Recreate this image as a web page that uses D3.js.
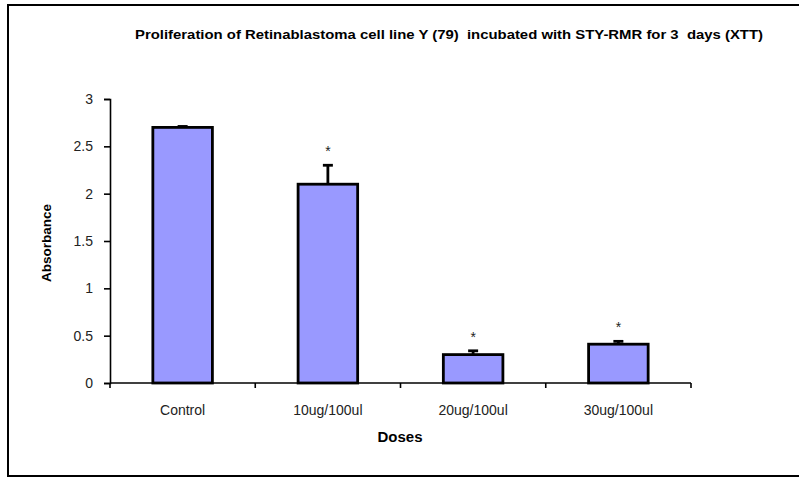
<!DOCTYPE html>
<html>
<head>
<meta charset="utf-8">
<script src="https://cdn.jsdelivr.net/npm/d3@7"></script>
<style>
  body { margin: 0; background: #fff; }
  text { font-family: "Liberation Sans", Arial, sans-serif; }
</style>
</head>
<body>
<div id="chart"></div>
<script>
// data
var doses = ['Control', '10ug/100ul', '20ug/100ul', '30ug/100ul'];
var absorbance = [2.70, 2.10, 0.30, 0.41];
var errors = [0.01, 0.20, 0.04, 0.03];
var significant = [false, true, true, true];
var yTicks = [0, 0.5, 1, 1.5, 2, 2.5, 3];

var width = 799, height = 478;

var svg = d3.select('#chart').append('svg')
  .attr('width', width)
  .attr('height', height);

// outer frame
svg.append('rect')
  .attr('x', 8).attr('y', 5)
  .attr('width', 800).attr('height', 471)
  .attr('fill', 'none')
  .attr('stroke', '#000')
  .attr('stroke-width', 2);

var x = d3.scaleBand().domain(doses).range([110, 691]).padding(0);
var y = d3.scaleLinear().domain([0, 3]).range([383, 99]);

// bars
var barW = x.bandwidth() * 0.41;
svg.selectAll('.bar').data(doses).enter()
  .append('rect').attr('class', 'bar')
  .attr('x', function(d) { return x(d) + (x.bandwidth() - barW) / 2; })
  .attr('y', function(d, i) { return y(absorbance[i]); })
  .attr('width', barW)
  .attr('height', function(d, i) { return y(0) - y(absorbance[i]); })
  .attr('fill', '#9999ff')
  .attr('stroke', '#000')
  .attr('stroke-width', 2.8);

// error bars (upper only)
var err = svg.selectAll('.err').data(doses).enter()
  .append('g').attr('class', 'err')
  .attr('stroke', '#000').attr('stroke-width', 2.8);
err.append('line')
  .attr('x1', function(d) { return x(d) + x.bandwidth() / 2; })
  .attr('x2', function(d) { return x(d) + x.bandwidth() / 2; })
  .attr('y1', function(d, i) { return y(absorbance[i]); })
  .attr('y2', function(d, i) { return y(absorbance[i] + errors[i]); });
err.append('line')
  .attr('x1', function(d) { return x(d) + x.bandwidth() / 2 - 5; })
  .attr('x2', function(d) { return x(d) + x.bandwidth() / 2 + 5; })
  .attr('y1', function(d, i) { return y(absorbance[i] + errors[i]); })
  .attr('y2', function(d, i) { return y(absorbance[i] + errors[i]); });

// significance stars
svg.selectAll('.star').data(doses).enter()
  .filter(function(d, i) { return significant[i]; })
  .append('text').attr('class', 'star')
  .attr('x', function(d) { return x(d) + x.bandwidth() / 2; })
  .attr('y', function(d) { var i = doses.indexOf(d); return y(absorbance[i] + errors[i]) - 9; })
  .attr('text-anchor', 'middle')
  .attr('font-size', 14)
  .attr('fill', '#222')
  .text('*');

// y axis
var yAxis = svg.append('g')
  .attr('transform', 'translate(110,0)')
  .call(d3.axisLeft(y).tickValues(yTicks).tickSize(6).tickPadding(11)
    .tickFormat(function(d) { return String(d); }));
yAxis.select('.domain').attr('stroke-width', 1.6);
yAxis.selectAll('.tick line').attr('stroke-width', 1.6);
yAxis.selectAll('.tick text').attr('font-size', 14).attr('fill', '#222')
  .style('font-family', '"Liberation Sans", Arial, sans-serif');

// x axis: boundary ticks + labels at band centres
var xb = svg.append('g').attr('transform', 'translate(0,383)');
xb.append('line')
  .attr('x1', 110).attr('x2', 691)
  .attr('stroke', '#000').attr('stroke-width', 1.6);
var bounds = doses.map(function(d) { return x(d); }).concat([x.range()[1]]);
xb.selectAll('.xt').data(bounds).enter()
  .append('line')
  .attr('x1', function(d) { return d; }).attr('x2', function(d) { return d; })
  .attr('y1', 0).attr('y2', 5)
  .attr('stroke', '#000').attr('stroke-width', 1.6);
xb.selectAll('.xl').data(doses).enter()
  .append('text')
  .attr('x', function(d) { return x(d) + x.bandwidth() / 2; })
  .attr('y', 32)
  .attr('text-anchor', 'middle')
  .attr('font-size', 14)
  .attr('fill', '#222')
  .text(function(d) { return d; });

// titles
svg.append('text')
  .attr('x', 449).attr('y', 39)
  .attr('text-anchor', 'middle')
  .attr('font-size', 12)
  .attr('font-weight', 'bold')
  .attr('textLength', 628)
  .attr('lengthAdjust', 'spacingAndGlyphs')
  .style('white-space', 'pre')
  .text('Proliferation of Retinablastoma cell line Y (79)  incubated with STY-RMR for 3  days (XTT)');

svg.append('text')
  .attr('x', 400).attr('y', 442)
  .attr('text-anchor', 'middle')
  .attr('font-size', 14)
  .attr('font-weight', 'bold')
  .attr('textLength', 45)
  .attr('lengthAdjust', 'spacingAndGlyphs')
  .text('Doses');

svg.append('text')
  .attr('transform', 'translate(51,243) rotate(-90)')
  .attr('text-anchor', 'middle')
  .attr('font-size', 13.5)
  .attr('font-weight', 'bold')
  .text('Absorbance');
</script>
</body>
</html>
